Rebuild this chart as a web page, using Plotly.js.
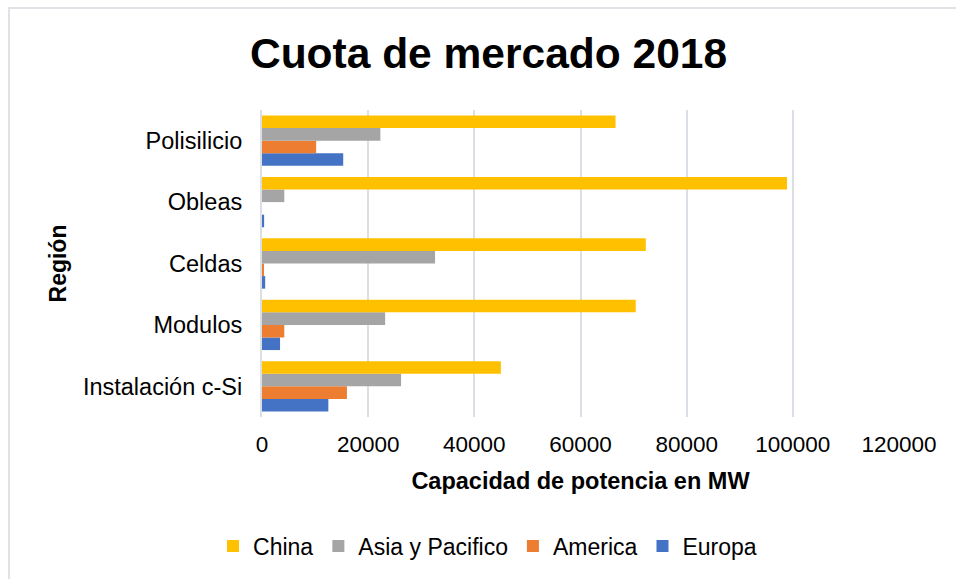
<!DOCTYPE html>
<html>
<head>
<meta charset="utf-8">
<script src="https://cdn.plot.ly/plotly-3.0.1.min.js"></script>
<style>
  html, body { margin: 0; padding: 0; background: #fff; }
  #wrap { position: relative; width: 956px; height: 579px; overflow: hidden; }
  #frame { position: absolute; left: 8px; top: 7px; width: 1000px; height: 700px; border: 2px solid #dfe2e7; box-sizing: border-box; pointer-events: none; }
  #chart { position: absolute; left: 0; top: 0; width: 956px; height: 579px; }
</style>
</head>
<body>
<div id="wrap">
  <div id="chart"></div>
  <div id="frame"></div>
</div>
<script>
// Categories (bottom to top as drawn)
const categories = ["Instalación c-Si", "Modulos", "Celdas", "Obleas", "Polisilicio"];
// Series values (MW), same order as categories
const china   = [45000, 70400, 72300, 98900, 66600];
const asiaPac = [26200, 23200, 32600, 4200, 22300];
const america = [16000, 4200, 300, 0, 10200];
const europa  = [12500, 3400, 600, 400, 15300];
const xTicks = [0, 20000, 40000, 60000, 80000, 100000, 120000];

const font = "'Liberation Sans', Arial, sans-serif";

const traces = [
  {name: "Europa", x: europa, color: "#4472C4"},
  {name: "America", x: america, color: "#ED7D31"},
  {name: "Asia y Pacifico", x: asiaPac, color: "#A5A5A5"},
  {name: "China", x: china, color: "#FFC000"}
].map(s => ({
  type: "bar",
  orientation: "h",
  name: s.name,
  y: categories,
  x: s.x,
  marker: {color: s.color, line: {width: 0}},
  hoverinfo: "x+y+name"
}));

const layout = {
  width: 956,
  height: 579,
  paper_bgcolor: "rgba(0,0,0,0)",
  plot_bgcolor: "#fff",
  font: {family: font, color: "#000"},
  margin: {l: 262, r: 57, t: 110, b: 162},
  barmode: "group",
  bargap: 0.18,
  bargroupgap: 0,
  title: {
    text: "<b>Cuota de mercado 2018</b>",
    font: {family: font, size: 42.5, color: "#000"},
    x: 0.511, xref: "container", xanchor: "center",
    y: 1 - 53/579, yref: "container", yanchor: "middle"
  },
  xaxis: {
    range: [0, 120000],
    tickvals: xTicks,
    ticktext: xTicks.map(String),
    showgrid: true,
    gridcolor: "#dadee5",
    gridwidth: 2,
    zeroline: false,
    showline: false,
    ticks: "outside",
    ticklen: 7,
    tickcolor: "rgba(0,0,0,0)",
    tickfont: {family: font, size: 22.5, color: "#000"},
    title: {
      text: "<b>Capacidad de potencia en MW</b>",
      font: {family: font, size: 23.5, color: "#000"},
      standoff: 16
    }
  },
  yaxis: {
    showgrid: false,
    zeroline: false,
    showline: true,
    linecolor: "#dadee5",
    linewidth: 2,
    ticks: "",
    ticksuffix: "  ",
    tickfont: {family: font, size: 23.5, color: "#000"},
    title: {
      text: "<b>Región</b>",
      font: {family: font, size: 23, color: "#000"},
      standoff: 10
    }
  },
  legend: {
    orientation: "h",
    traceorder: "reversed",
    x: 0.51, xref: "container", xanchor: "center",
    y: 1 - 546/579, yref: "container", yanchor: "middle",
    font: {family: font, size: 23, color: "#000"},
    itemwidth: 30,
    itemsizing: "constant"
  },
  showlegend: true
};

Plotly.newPlot("chart", traces, layout, {displayModeBar: false, responsive: false});
</script>
</body>
</html>
